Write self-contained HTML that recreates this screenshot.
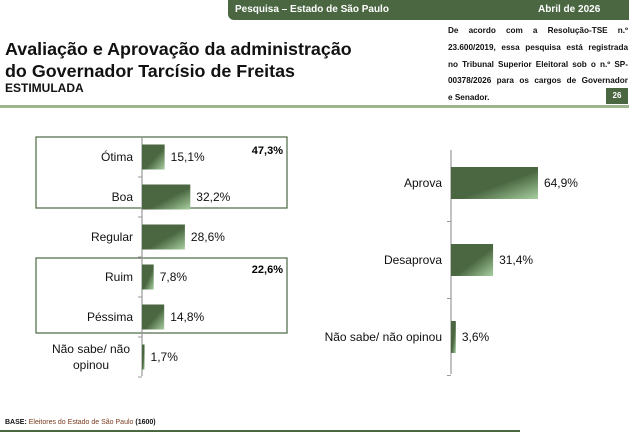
<!DOCTYPE html>
<html><head><meta charset="utf-8">
<style>
body{margin:0;width:629px;height:439px;overflow:hidden;background:#fff;font-family:"Liberation Sans",sans-serif;position:relative}
.abs{position:absolute}
.nl{white-space:nowrap;text-align:justify;text-align-last:justify;height:16.8px}
</style></head><body>
<div class="abs" style="left:228px;top:0;width:401px;height:20px;background:#4a6741;border-radius:0 0 0 6px"></div>
<div class="abs" style="left:235px;top:4px;font-size:10px;font-weight:bold;color:#fff">Pesquisa – Estado de São Paulo</div>
<div class="abs" style="left:538px;top:4px;font-size:10px;font-weight:bold;color:#fff">Abril de 2026</div>
<div class="abs" style="left:5px;top:38px;font-size:17.9px;font-weight:bold;line-height:22px;color:#111">Avaliação e Aprovação da administração<br>do Governador Tarcísio de Freitas</div>
<div class="abs" style="left:5px;top:81px;font-size:12px;font-weight:bold;color:#111">ESTIMULADA</div>
<div class="abs" style="left:448px;top:23px;width:180px;font-size:8.2px;font-weight:bold;line-height:16.8px;color:#111">
<div class="nl">De acordo com a Resolução-TSE n.º</div>
<div class="nl">23.600/2019, essa pesquisa está registrada</div>
<div class="nl">no Tribunal Superior Eleitoral sob o n.º SP-</div>
<div class="nl">00378/2026 para os cargos de Governador</div>
<div style="height:16.8px">e Senador.</div>
</div>
<div class="abs" style="left:606px;top:88px;width:22px;height:16px;background:#4a6741;color:#fff;font-size:8px;font-weight:bold;text-align:center;line-height:16px">26</div>
<div class="abs" style="left:0;top:105px;width:629px;height:3px;background:#9db48f"></div>
<svg class="abs" style="left:0;top:0" width="629" height="439" id="chart">
<defs><linearGradient id="g" x1="0" y1="0" x2="1" y2="1">
<stop offset="0" stop-color="#4a6741"/><stop offset="0.55" stop-color="#4a6741"/><stop offset="1" stop-color="#a8cfa0"/></linearGradient></defs>
<rect x="36" y="137" width="251" height="71" fill="none" stroke="#4a6741" stroke-width="1.2"/>
<rect x="36" y="258" width="251" height="75" fill="none" stroke="#4a6741" stroke-width="1.2"/>
<text x="283" y="154" font-size="11" font-weight="bold" text-anchor="end">47,3%</text>
<text x="283" y="273" font-size="11" font-weight="bold" text-anchor="end">22,6%</text>
</svg>
<div class="abs" style="left:0;top:430px;width:520px;height:1.5px;background:#4a6741"></div>
<div class="abs" style="left:5px;top:419px;font-size:7px;color:#111"><b>BASE:</b> <span style="color:#7a3b1e">Eleitores do Estado de São Paulo</span> <b>(1600)</b></div>
<script>
const leftCats=["Ótima","Boa","Regular","Ruim","Péssima","Não sabe/ não|opinou"];
const leftVals=[15.1,32.2,28.6,7.8,14.8,1.7];
const rightCats=["Aprova","Desaprova","Não sabe/ não opinou"];
const rightVals=[64.9,31.4,3.6];
const NS="http://www.w3.org/2000/svg";
const svg=document.getElementById('chart');
function el(t,a){const e=document.createElementNS(NS,t);for(const k in a)e.setAttribute(k,a[k]);svg.appendChild(e);return e;}
function fmt(v){return v.toFixed(1).replace('.',',')+'%';}
function draw(cats,vals,ax,y0,step,bh,scale,top,bottom,prefix){
  const axis=el('line',{x1:ax,x2:ax,y1:top,y2:bottom,stroke:'#999','stroke-width':1.2});
  
  
  cats.forEach((c,i)=>{
    const cy=y0+i*step;
    const tk=el('line',{x1:ax-4,x2:ax,y1:cy+step/2,y2:cy+step/2,stroke:'#999','stroke-width':1});
    
    
    const w=vals[i]*scale;
    const r=el('rect',{x:ax,y:cy-bh/2,width:w,height:bh,fill:'url(#g)'});
    
    
    const lines=c.split('|');
    const t=el('text',{x:ax-9,y:cy+4-(lines.length-1)*8,'font-size':12,'text-anchor':'end',fill:'#111'});
    
    
    lines.forEach((l,j)=>{const s=document.createElementNS(NS,'tspan');s.setAttribute('x',lines.length>1?ax-51:ax-9);if(lines.length>1)s.setAttribute('text-anchor','middle');s.setAttribute('dy',j?16:0);s.textContent=l;t.appendChild(s);});
    const v=el('text',{x:ax+w+6,y:cy+4,'font-size':12,fill:'#111'});
    
    
    v.textContent=fmt(vals[i]);
  });
}
draw(leftCats,leftVals,142,157,40,25,1.5,137,376,'rating');
draw(rightCats,rightVals,451,183,77,32,1.34,150,374,'approval');
</script>
</body></html>
